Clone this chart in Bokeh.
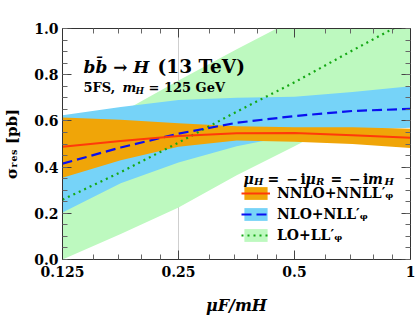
from bokeh.plotting import figure
from bokeh.models import (Range1d, FixedTicker, LogAxis, LinearAxis, Label, Legend,
                          LegendItem, ColumnDataSource, CustomJSTickFormatter,
                          PrintfTickFormatter)
from bokeh.embed import file_html
from bokeh.resources import INLINE

# ---------------- data ----------------
mu = [0.125, 0.177, 0.25, 0.354, 0.5, 0.707, 1.0]
lo_lower = [0.0, 0.11, 0.225, 0.365, 0.49, 0.62, 0.755]
lo_upper = [0.50, 0.635, 0.775, 0.91, 1.04, 1.18, 1.32]
lo_central = [0.259, 0.378, 0.506, 0.64, 0.767, 0.905, 1.04]
nlo_lower = [0.203, 0.33, 0.42, 0.49, 0.54, 0.56, 0.57]
nlo_upper = [0.625, 0.66, 0.69, 0.70, 0.705, 0.725, 0.75]
nlo_central = [0.415, 0.485, 0.545, 0.592, 0.621, 0.643, 0.652]
nnlo_lower = [0.354, 0.43, 0.488, 0.515, 0.51, 0.50, 0.483]
nnlo_upper = [0.615, 0.605, 0.59, 0.577, 0.573, 0.572, 0.566]
nnlo_central = [0.488, 0.513, 0.535, 0.546, 0.548, 0.538, 0.527]

x_major = [0.125, 0.25, 0.5, 1.0]
x_minor = [0.15, 0.175, 0.2, 0.225, 0.3, 0.35, 0.4, 0.45, 0.6, 0.7, 0.8, 0.9]
y_major = [0.0, 0.2, 0.4, 0.6, 0.8, 1.0]
y_minor = [round(0.05 * i, 2) for i in range(21)]

labels = ["NNLO+NNLL\u2032\u1d69", "NLO+NLL\u2032\u1d69", "LO+LL\u2032\u1d69"]
x_title = "\u03bcF/mH"
y_title = "\u03c3\u1d63\u2091\u209b [pb]"

src = ColumnDataSource(dict(mu=mu, lo_lower=lo_lower, lo_upper=lo_upper, lo_central=lo_central,
                            nlo_lower=nlo_lower, nlo_upper=nlo_upper, nlo_central=nlo_central,
                            nnlo_lower=nnlo_lower, nnlo_upper=nnlo_upper, nnlo_central=nnlo_central))

FONT = "DejaVu Serif"
ORANGE = "#f0a508"
BLUE = "#76d3f8"
GREEN = "#bdf9bf"

p = figure(width=415, height=322, x_axis_type="log",
           x_range=Range1d(0.125, 1.0), y_range=Range1d(0.0, 1.0),
           output_backend="svg", toolbar_location=None,
           min_border_left=62, min_border_right=5, min_border_top=28, min_border_bottom=63)
p.outline_line_color = "#333333"
p.background_fill_color = "white"

# grid: only one faint vertical line at 0.25
p.xgrid.ticker = FixedTicker(ticks=[0.25])
p.xgrid.grid_line_color = "#cfcfcf"
p.ygrid.grid_line_color = None

g_lo = p.varea(x="mu", y1="lo_lower", y2="lo_upper", source=src, fill_color=GREEN)
g_nlo = p.varea(x="mu", y1="nlo_lower", y2="nlo_upper", source=src, fill_color=BLUE)
g_nnlo = p.varea(x="mu", y1="nnlo_lower", y2="nnlo_upper", source=src, fill_color=ORANGE)
l_lo = p.line(x="mu", y="lo_central", source=src, line_color="#14a814", line_width=2.2,
              line_dash="2 4")
l_nlo = p.line(x="mu", y="nlo_central", source=src, line_color="#0a10f0", line_width=2.2,
               line_dash="10 5")
l_nnlo = p.line(x="mu", y="nnlo_central", source=src, line_color="#ff3a0a", line_width=2)


def style_axis(ax, show):
    ax.major_tick_in = 9
    ax.major_tick_out = 0
    ax.minor_tick_in = 5
    ax.minor_tick_out = 0
    ax.axis_line_color = "#333333"
    ax.major_tick_line_color = "#444444"
    ax.minor_tick_line_color = "#666666"
    if show:
        ax.major_label_text_font = FONT
        ax.major_label_text_font_style = "bold"
        ax.major_label_text_font_size = "14px"
        ax.major_label_text_color = "black"
        ax.axis_label_text_font = FONT
        ax.axis_label_text_color = "black"
    else:
        ax.major_label_text_font_size = "0px"
        ax.major_label_standoff = 0
        ax.formatter = CustomJSTickFormatter(code="return ''")


xb = p.xaxis[0]
xb.ticker = FixedTicker(ticks=x_major, minor_ticks=x_minor)
xb.formatter = CustomJSTickFormatter(code="return tick.toString()")
style_axis(xb, True)
xb.major_label_standoff = 6
xb.axis_label = x_title
xb.axis_label_text_font_size = "16px"
xb.axis_label_text_font_style = "bold italic"
xb.axis_label_standoff = 16

yl = p.yaxis[0]
yl.ticker = FixedTicker(ticks=y_major, minor_ticks=y_minor)
yl.formatter = PrintfTickFormatter(format="%.1f")
style_axis(yl, True)
yl.major_label_standoff = 4
yl.axis_label = y_title
yl.axis_label_text_font_size = "15px"
yl.axis_label_text_font_style = "bold"
yl.axis_label_standoff = 10

xt = LogAxis(ticker=FixedTicker(ticks=x_major, minor_ticks=x_minor))
style_axis(xt, False)
p.add_layout(xt, "above")
yr = LinearAxis(ticker=FixedTicker(ticks=y_major, minor_ticks=y_minor))
style_axis(yr, False)
p.add_layout(yr, "right")

# legend
legend = Legend(items=[LegendItem(label=labels[0], renderers=[g_nnlo, l_nnlo]),
                       LegendItem(label=labels[1], renderers=[g_nlo, l_nlo]),
                       LegendItem(label=labels[2], renderers=[g_lo, l_lo])],
                location=(179, 16), padding=0, margin=0, spacing=5,
                glyph_width=29, glyph_height=16, label_height=16, label_standoff=7,
                border_line_color=None, background_fill_alpha=0,
                label_text_font=FONT, label_text_font_style="bold",
                label_text_font_size="14px", label_text_color="black")
p.add_layout(legend, "center")

# text pieces inside the frame; X,Y are picture positions, converted to frame-relative px
FX0, FY0 = 62, 259


def lab(text, X, Y, size, style="bold"):
    p.add_layout(Label(x=X - FX0, y=FY0 - Y, x_units="screen", y_units="screen",
                       text=text, text_font=FONT, text_font_size=size,
                       text_font_style=style, text_color="black",
                       text_align="left", text_baseline="alphabetic"))


# title lines
lab("bb\u0304 \u2192 H", 83, 66, "17px", "bold italic")
lab("(13 TeV)", 157, 66, "18.5px", "bold")
lab("5FS,", 83, 87, "13px", "bold")
lab("m", 122, 87, "13px", "bold italic")
lab("H", 135, 90, "9px", "bold italic")
lab("= 125 GeV", 148, 87, "13px", "bold")

# legend title: mu_H = -i mu_R = -i m_H
TB, SB = 178, 181
for txt, X, Y, sz, st in [("\u03bc", 243, TB, "14px", "bold italic"),
                          ("H", 253.5, SB, "10px", "bold italic"),
                          ("=", 267, TB, "14px", "bold"),
                          ("\u2212", 286, TB, "14px", "bold"),
                          ("i", 300, TB, "14px", "bold"),
                          ("\u03bc", 305, TB, "14px", "bold italic"),
                          ("R", 315.5, SB, "10px", "bold italic"),
                          ("=", 330, TB, "14px", "bold"),
                          ("\u2212", 348.5, TB, "14px", "bold"),
                          ("i", 362.5, TB, "14px", "bold"),
                          ("m", 367.5, TB, "14px", "bold italic"),
                          ("H", 384, SB, "10px", "bold italic")]:
    lab(txt, X, Y, sz, st)

open("out.html", "w").write(file_html(p, INLINE))
